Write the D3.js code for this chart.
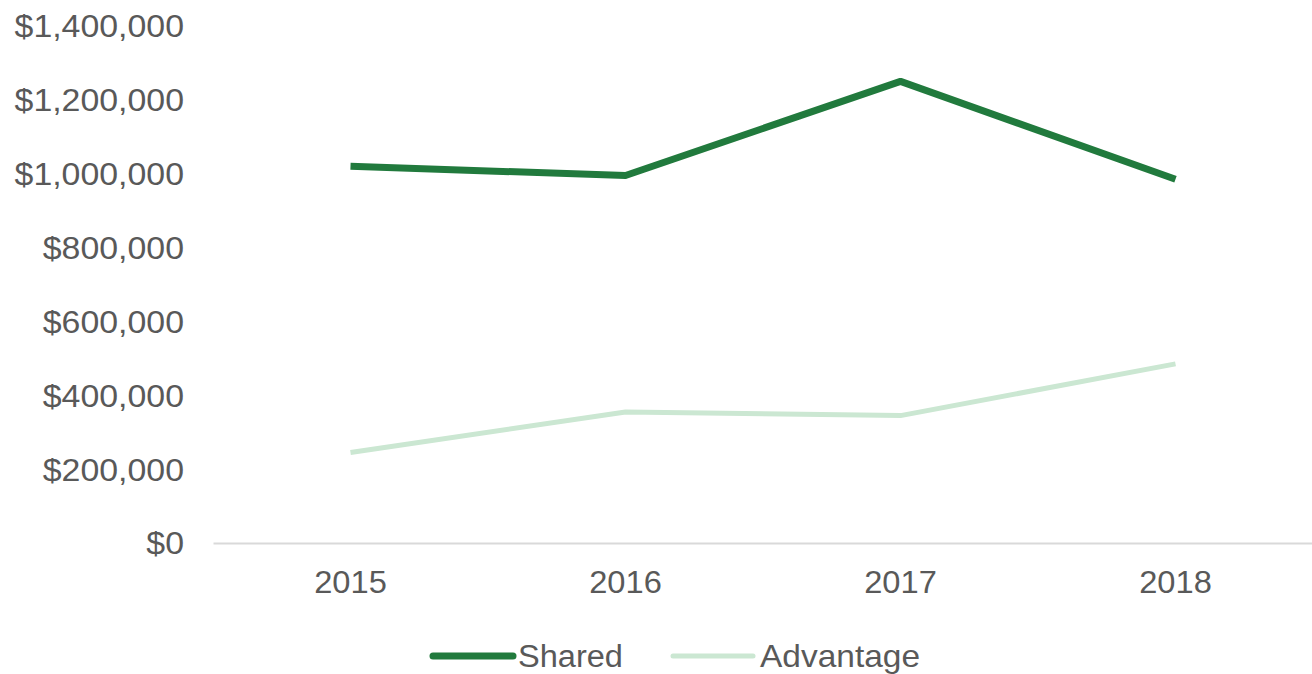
<!DOCTYPE html>
<html>
<head>
<meta charset="utf-8">
<script src="https://cdn.jsdelivr.net/npm/d3@7"></script>
<style>
  body { margin: 0; background: #fff; }
  svg { display: block; font-family: "Liberation Sans", Arial, sans-serif; }
</style>
</head>
<body>
<div id="chart"></div>
<script>
// data
var years = ['2015', '2016', '2017', '2018'];
var shared = [1020000, 995000, 1250000, 985000];
var advantage = [245000, 355000, 345000, 485000];
var yTicks = [0, 200000, 400000, 600000, 800000, 1000000, 1200000, 1400000];
var seriesNames = ['Shared', 'Advantage'];

var width = 1312, height = 674;

var svg = d3.select('#chart').append('svg')
  .attr('width', width)
  .attr('height', height);

var x = d3.scaleBand()
  .domain(years)
  .range([213, 1313]);

var y = d3.scaleLinear()
  .domain([0, 1400000])
  .range([543, 26]);

var money = function(d){ return '$' + d3.format(',')(d); };

// y labels (the source text is a little stretched sideways)
svg.append('g')
  .attr('transform', 'translate(184,0)')
  .call(d3.axisLeft(y).tickValues(yTicks).tickFormat(money).tickSize(0).tickPadding(0))
  .call(function(g){ g.select('.domain').remove(); })
  .selectAll('text')
    .style('font-size', '30.5px')
    .style('fill', '#595959')
    .attr('dy', '0.36em')
    .attr('transform', 'scale(1.11,1)');

// x axis
var xAxis = svg.append('g')
  .attr('transform', 'translate(0,543)')
  .call(d3.axisBottom(x).tickSize(0).tickPadding(27));
xAxis.select('.domain')
  .attr('stroke', '#d9d9d9')
  .attr('stroke-width', 2);
xAxis.selectAll('text')
  .style('font-size', '32px')
  .style('fill', '#595959')
  .attr('transform', 'scale(1.02,1)');

var line = d3.line()
  .x(function(d, i){ return x(years[i]) + x.bandwidth() / 2; })
  .y(function(d){ return y(d); });

var styles = [
  {data: shared, color: '#217a3d', w: 7},
  {data: advantage, color: '#cbe7d2', w: 5}
];

styles.forEach(function(s){
  svg.append('path')
    .datum(s.data)
    .attr('fill', 'none')
    .attr('stroke', s.color)
    .attr('stroke-width', s.w)
    .attr('stroke-linejoin', 'round')
    .attr('d', line);
});

// legend
var legendPos = [433, 673];
var textPos = [518, 760];
var legend = svg.append('g');
seriesNames.forEach(function(name, i){
  legend.append('line')
    .attr('x1', legendPos[i]).attr('x2', legendPos[i] + 80)
    .attr('y1', 656).attr('y2', 656)
    .attr('stroke', styles[i].color)
    .attr('stroke-width', styles[i].w)
    .attr('stroke-linecap', 'round');
  legend.append('g')
    .attr('transform', 'translate(' + textPos[i] + ',667) scale(' + (i ? 1.08 : 1.05) + ',1)')
    .append('text')
      .style('font-size', '31px')
      .style('fill', '#595959')
      .text(name);
});
</script>
</body>
</html>
